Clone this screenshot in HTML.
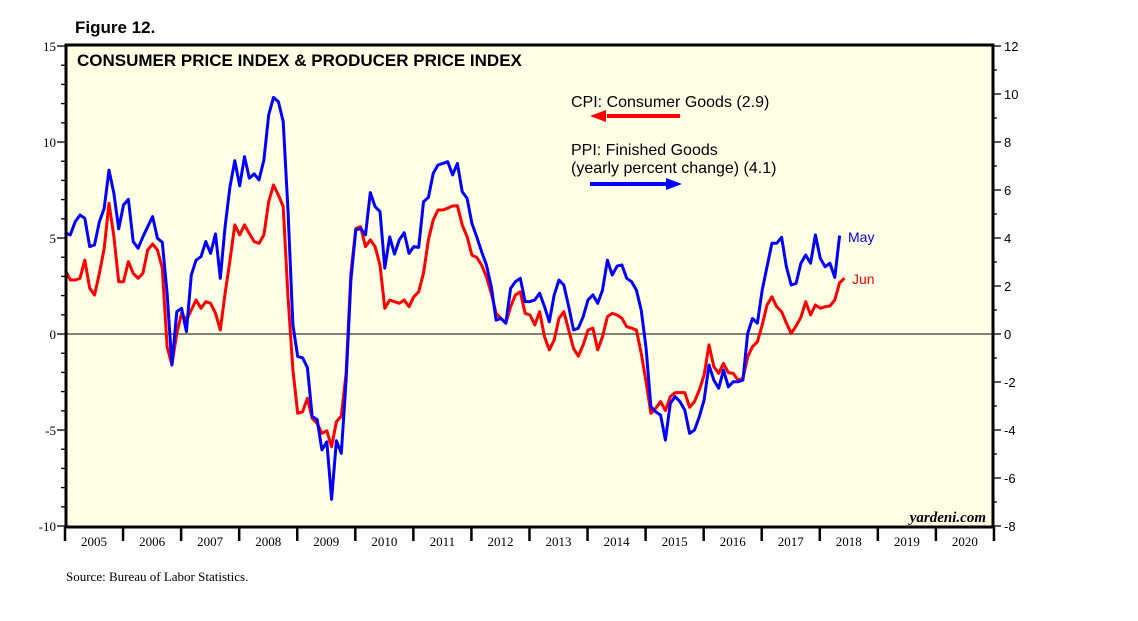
<!DOCTYPE html>
<html><head><meta charset="utf-8"><style>
body{margin:0;background:#fff;width:1138px;height:621px;overflow:hidden}
svg{display:block}
</style></head><body>
<svg id="chart" width="1138" height="621" xmlns="http://www.w3.org/2000/svg">
<text x="75" y="33" font-family="Liberation Sans, sans-serif" font-weight="bold" font-size="17" fill="#000">Figure 12.</text>
<rect x="66" y="45" width="927" height="482" fill="#ffffe6" stroke="none"/>
<g id="axes"></g>
<line id="zero" x1="66" x2="993" stroke="#000" stroke-width="1"/>
<polyline id="red" fill="none" stroke="#ff0000" stroke-width="3" stroke-linejoin="round"/>
<polyline id="blue" fill="none" stroke="#0000ff" stroke-width="3" stroke-linejoin="round"/>
<rect x="66" y="45" width="927" height="482" fill="none" stroke="#000" stroke-width="3"/>
<text x="77" y="66" font-family="Liberation Sans, sans-serif" font-weight="bold" font-size="17" fill="#000">CONSUMER PRICE INDEX &amp; PRODUCER PRICE INDEX</text>
<text x="571" y="107" font-family="Liberation Sans, sans-serif" font-size="16" fill="#000">CPI: Consumer Goods (2.9)</text>
<line x1="607" y1="116" x2="680" y2="116" stroke="#ff0000" stroke-width="4"/>
<polygon points="590,116 606,110 606,122" fill="#ff0000"/>
<text x="571" y="155" font-family="Liberation Sans, sans-serif" font-size="16" fill="#000">PPI: Finished Goods</text>
<text x="571" y="173" font-family="Liberation Sans, sans-serif" font-size="16" fill="#000">(yearly percent change) (4.1)</text>
<line x1="590" y1="184" x2="666" y2="184" stroke="#0000ff" stroke-width="4"/>
<polygon points="682,184 666,178 666,190" fill="#0000ff"/>
<text x="848" y="242" font-family="Liberation Sans, sans-serif" font-size="14" fill="#0000ff">May</text>
<text x="852" y="284" font-family="Liberation Sans, sans-serif" font-size="14" fill="#ff0000">Jun</text>
<text x="986" y="522" text-anchor="end" font-family="Liberation Serif, serif" font-style="italic" font-weight="bold" font-size="15" fill="#000">yardeni.com</text>
<text x="66" y="581" font-family="Liberation Serif, serif" font-size="13" fill="#000">Source: Bureau of Labor Statistics.</text>
</svg>
<script>
const cpi = [
3.3,2.81,2.81,2.90,3.85,2.38,2.03,3.16,4.46,6.81,5.07,2.72,
2.72,3.77,3.16,2.90,3.16,4.38,4.69,4.38,3.42,-0.66,-1.61,0.04,
1.08,0.73,1.25,1.77,1.34,1.68,1.60,1.08,0.21,2.12,3.85,5.68,
5.16,5.68,5.24,4.81,4.72,5.16,6.89,7.76,7.24,6.63,1.94,-1.87,
-4.13,-4.05,-3.35,-4.39,-4.65,-5.17,-5.04,-5.87,-4.57,-4.27,-2.05,3.16,
5.50,5.59,4.55,4.90,4.55,3.59,1.34,1.77,1.68,1.60,1.77,1.42,
1.94,2.20,3.16,4.90,5.94,6.46,6.46,6.55,6.67,6.68,5.68,5.07,
4.11,3.99,3.59,2.98,2.12,1.08,0.82,0.56,1.42,2.03,2.20,1.08,
0.99,0.47,1.16,-0.14,-0.83,-0.31,0.82,1.16,0.21,-0.75,-1.15,-0.57,
0.21,0.30,-0.83,-0.14,0.90,1.08,0.99,0.82,0.38,0.30,0.21,-1.0,
-2.5,-4.13,-3.87,-3.52,-3.99,-3.26,-3.05,-3.05,-3.05,-3.82,-3.52,-2.92,
-2.14,-0.57,-1.70,-2.05,-1.53,-2.01,-2.05,-2.40,-2.31,-1.18,-0.66,-0.40,
0.47,1.51,1.94,1.42,1.16,0.56,0.03,0.42,0.87,1.68,0.99,1.51,
1.34,1.42,1.46,1.77,2.67,2.90];
const ppi = [
4.2,4.13,4.68,4.96,4.82,3.64,3.71,4.68,5.24,6.83,5.86,4.38,
5.38,5.61,3.85,3.57,4.05,4.47,4.89,3.99,3.82,1.70,-1.29,0.93,
1.07,0.10,2.46,3.08,3.22,3.85,3.36,4.17,2.32,4.47,6.14,7.22,
6.17,7.39,6.49,6.67,6.42,7.25,9.13,9.86,9.68,8.85,5.14,0.38,
-0.94,-0.99,-1.39,-3.44,-3.56,-4.83,-4.49,-6.89,-4.45,-4.97,-1.92,2.25,
4.33,4.40,4.13,5.89,5.31,5.10,2.74,4.05,3.33,3.92,4.22,3.36,
3.64,3.61,5.51,5.69,6.69,7.04,7.11,7.18,6.63,7.11,5.93,5.65,
4.61,4.05,3.43,2.88,1.97,0.58,0.65,0.45,1.90,2.18,2.32,1.35,
1.35,1.42,1.70,1.14,0.51,1.63,2.25,2.04,1.14,0.17,0.24,0.72,
1.42,1.63,1.28,1.83,3.08,2.46,2.83,2.88,2.32,2.18,1.83,1.0,
-0.6,-3.03,-3.24,-3.38,-4.42,-2.89,-2.61,-2.82,-3.17,-4.14,-4.0,-3.45,
-2.75,-1.29,-1.92,-2.26,-1.5,-2.2,-1.99,-1.99,-1.92,0.03,0.65,0.45,
1.83,2.80,3.78,3.78,4.03,2.80,2.04,2.11,2.95,3.29,2.95,4.13,
3.15,2.8,2.95,2.36,4.1];
const years = [2005,2006,2007,2008,2009,2010,2011,2012,2013,2014,2015,2016,2017,2018,2019,2020];
const leftTicks = [15,10,5,0,-5,-10];
const rightTicks = [12,10,8,6,4,2,0,-2,-4,-6,-8];

const X0=65, YW=58.06, TOP=45, BOT=527;
const x = i => X0 + (i+0.1)*YW/12;
const yL = v => 334 - v*19.2;
const yR = v => 334 - v*24;
const NS="http://www.w3.org/2000/svg";
const ax=document.getElementById('axes');
function mk(tag, attrs){const e=document.createElementNS(NS,tag);for(const k in attrs)e.setAttribute(k,attrs[k]);return e;}

document.getElementById('red').setAttribute('points', cpi.map((v,i)=>x(i).toFixed(1)+','+yL(v).toFixed(1)).join(' '));
document.getElementById('blue').setAttribute('points', ppi.map((v,i)=>x(i).toFixed(1)+','+yR(v).toFixed(1)).join(' '));
const z=document.getElementById('zero'); z.setAttribute('y1',yL(0)); z.setAttribute('y2',yL(0));

for(let v=-10; v<=15; v++){
  const l=mk('line',{x1:v%5===0?57:61,x2:66,y1:yL(v),y2:yL(v),stroke:'#000','stroke-width':1.3});
  
  
  ax.appendChild(l);
}
leftTicks.forEach(v=>{
  const t=mk('text',{x:56,y:yL(v)+5,'text-anchor':'end','font-family':'Liberation Serif, serif','font-size':13});
  t.textContent=v;
  
  
  ax.appendChild(t);
});
for(let v=-8; v<=12; v++){
  const l=mk('line',{x1:993,x2:v%2===0?1001:997,y1:yR(v),y2:yR(v),stroke:'#000','stroke-width':1.3});
  
  
  ax.appendChild(l);
}
rightTicks.forEach(v=>{
  const t=mk('text',{x:1004,y:yR(v)+5,'font-family':'Liberation Sans, sans-serif','font-size':13});
  t.textContent=v;
  
  
  ax.appendChild(t);
});
years.forEach((yr,i)=>{
  const xs=X0+i*YW;
  const l=mk('line',{x1:xs,x2:xs,y1:BOT,y2:541,stroke:'#000','stroke-width':2.5});
  
  
  ax.appendChild(l);
  const t=mk('text',{x:xs+YW/2,y:546,'text-anchor':'middle','font-family':'Liberation Serif, serif','font-size':13});
  t.textContent=yr;
  
  
  ax.appendChild(t);
});
const le=mk('line',{x1:X0+16*YW,x2:X0+16*YW,y1:BOT,y2:541,stroke:'#000','stroke-width':2.5});


ax.appendChild(le);
</script>
</body></html>
